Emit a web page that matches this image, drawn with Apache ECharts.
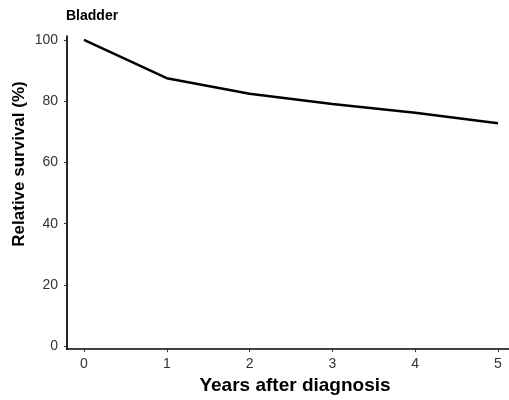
<!DOCTYPE html>
<html>
<head>
<meta charset="utf-8">
<script src="https://cdn.jsdelivr.net/npm/echarts@6/dist/echarts.min.js"></script>
<style>html,body{margin:0;padding:0;background:#fff}#c{width:509px;height:400px}</style>
</head>
<body>
<div id="c"></div>
<script>
const years = [0, 1, 2, 3, 4, 5];
const survival = [100, 87.5, 82.4, 79.1, 76.2, 72.8];
const yTicks = [0, 20, 40, 60, 80, 100];
const xTicks = [0, 1, 2, 3, 4, 5];
const yTitle = 'Relative survival (%)';
const xTitle = 'Years after diagnosis';
const panelTitle = 'Bladder';

const font = 'Liberation Sans, Arial, Helvetica, sans-serif';
const chart = echarts.init(document.getElementById('c'), null, {renderer: 'canvas'});
chart.setOption({
  animation: false,
  backgroundColor: '#fff',
  title: {
    text: panelTitle, left: 66, top: 9, padding: 0,
    textStyle: {fontFamily: font, fontSize: 14, fontWeight: 'bold', color: '#000'}
  },
  graphic: [{
    type: 'text', x: 19, y: 164, rotation: Math.PI / 2,
    style: {text: yTitle, fontFamily: font, fontSize: 17, fontWeight: 'bold', fill: '#000',
            align: 'center', verticalAlign: 'middle'}
  }],
  grid: {left: 67, top: 36, right: 0, bottom: 45, containLabel: false},
  xAxis: {
    type: 'value', min: -0.205, max: 5.133,
    name: xTitle, nameLocation: 'middle', nameGap: 21,
    nameTextStyle: {fontFamily: font, fontSize: 19, fontWeight: 'bold', color: '#000',
                    padding: [0, 0, 0, 14]},
    axisLine: {show: true, onZero: false, lineStyle: {color: '#000', width: 1.7}},
    axisTick: {show: true, length: 3, customValues: xTicks, lineStyle: {color: '#333', width: 1}},
    axisLabel: {customValues: xTicks, margin: 8, fontFamily: font, fontSize: 14, color: '#333'},
    splitLine: {show: false}
  },
  yAxis: {
    type: 'value', min: -0.96, max: 101.28,
    axisLine: {show: true, onZero: false, lineStyle: {color: '#000', width: 1.7}},
    axisTick: {show: true, length: 3, customValues: yTicks, lineStyle: {color: '#333', width: 1}},
    axisLabel: {customValues: yTicks, margin: 9, fontFamily: font, fontSize: 14, color: '#333'},
    splitLine: {show: false}
  },
  series: [{
    type: 'line',
    data: years.map((x, i) => [x, survival[i]]),
    showSymbol: false,
    lineStyle: {color: '#000', width: 2.5},
    clip: false
  }]
});
</script>
</body>
</html>
